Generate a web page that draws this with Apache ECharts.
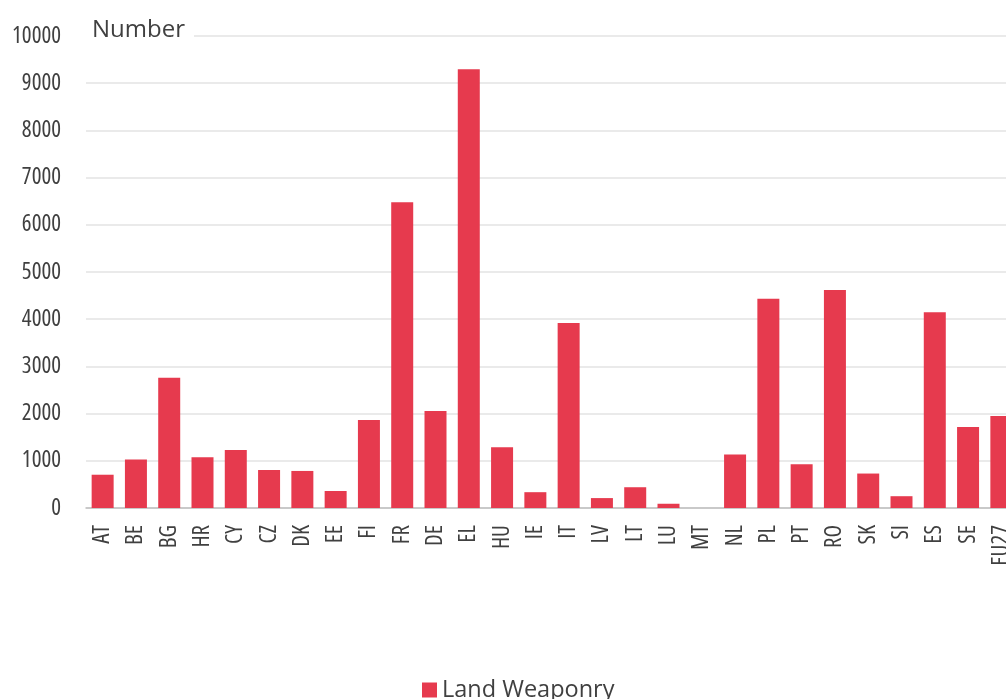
<!DOCTYPE html>
<html>
<head>
<meta charset="utf-8">
<script src="https://cdn.jsdelivr.net/npm/echarts@6/dist/echarts.min.js"></script>
<style>
  html, body { margin: 0; padding: 0; background: #fff; overflow: hidden; }
  #chart { width: 1006px; height: 699px; }
</style>
</head>
<body>
<div id="chart"></div>
<script>
// Member states (plus the EU27 total) on the category axis
const countries = ['AT','BE','BG','HR','CY','CZ','DK','EE','FI','FR','DE','EL','HU','IE','IT',
                   'LV','LT','LU','MT','NL','PL','PT','RO','SK','SI','ES','SE','EU27'];

// Land weaponry counts per country
const landWeaponry = [705, 1030, 2760, 1075, 1230, 805, 785, 360, 1865, 6480, 2055, 9295, 1285, 335, 3920,
                      210, 440, 90, 0, 1135, 4435, 925, 4620, 730, 250, 4145, 1715, 1950];

// Value axis ticks
const yMin = 0, yMax = 10000, yStep = 1000;

const textFont = '"Open Sans", "Noto Sans", sans-serif';
// Tick labels use the condensed width of Open Sans
const labelWeight = 'normal condensed';
const barColor = '#E63A4E';

const chart = echarts.init(document.getElementById('chart'), null, { renderer: 'canvas' });

chart.setOption({
  animation: false,
  backgroundColor: '#ffffff',
  title: {
    text: 'Number',
    left: 86,
    top: 18,
    padding: [0, 9, 0, 6],
    backgroundColor: '#ffffff',
    textStyle: { fontFamily: textFont, fontSize: 24, fontWeight: 'normal', color: '#404040' }
  },
  legend: {
    data: ['Land Weaponry'],
    left: 417,
    top: 673,
    icon: 'rect',
    itemWidth: 15,
    itemHeight: 15,
    textStyle: { fontFamily: textFont, fontSize: 23.5, color: '#404040' }
  },
  grid: { left: 86, top: 36, width: 932, bottom: 191, containLabel: false, outerBoundsMode: 'none' },
  xAxis: {
    type: 'category',
    data: countries,
    axisTick: { show: false },
    axisLine: { lineStyle: { color: '#bfbfbf', width: 1.5 } },
    axisLabel: {
      rotate: 90,
      margin: 17,
      interval: 0,
      fontFamily: textFont,
      fontWeight: labelWeight,
      fontSize: 23,
      color: '#404040'
    }
  },
  yAxis: {
    type: 'value',
    min: yMin,
    max: yMax,
    interval: yStep,
    axisLine: { show: false },
    axisTick: { show: false },
    splitLine: { lineStyle: { color: '#e3e3e3', width: 1.5 } },
    axisLabel: {
      margin: 25,
      fontFamily: textFont,
      fontWeight: labelWeight,
      fontSize: 23,
      color: '#404040',
      formatter: v => String(v)
    }
  },
  series: [{
    name: 'Land Weaponry',
    type: 'bar',
    data: landWeaponry,
    barWidth: 22,
    itemStyle: { color: barColor }
  }]
});
</script>
</body>
</html>
